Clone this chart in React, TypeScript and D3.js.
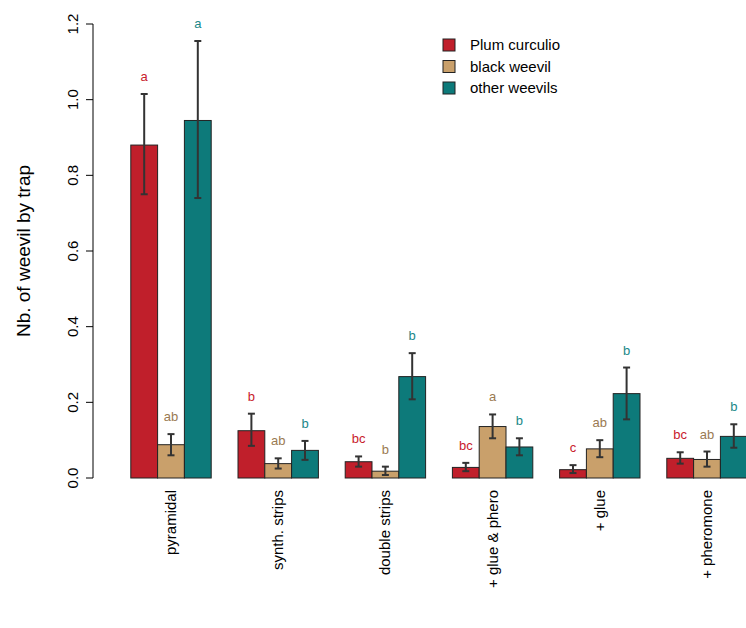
import React from 'react';
import * as d3 from 'd3';

const categories = ['pyramidal', 'synth. strips', 'double strips', '+ glue & phero', '+ glue', '+ pheromone'];
const seriesNames = ['Plum curculio', 'black weevil', 'other weevils'];
const means = [
  [0.88, 0.125, 0.043, 0.028, 0.022, 0.052],
  [0.088, 0.038, 0.018, 0.136, 0.077, 0.049],
  [0.945, 0.073, 0.268, 0.082, 0.223, 0.11],
];
const lows = [
  [0.75, 0.085, 0.03, 0.018, 0.013, 0.038],
  [0.06, 0.025, 0.008, 0.105, 0.055, 0.03],
  [0.74, 0.048, 0.208, 0.06, 0.155, 0.08],
];
const highs = [
  [1.015, 0.17, 0.057, 0.04, 0.034, 0.068],
  [0.116, 0.052, 0.03, 0.168, 0.1, 0.07],
  [1.155, 0.098, 0.33, 0.105, 0.292, 0.142],
];
const letters = [
  ['a', 'b', 'bc', 'bc', 'c', 'bc'],
  ['ab', 'ab', 'b', 'a', 'ab', 'ab'],
  ['a', 'b', 'b', 'b', 'b', 'b'],
];
const yTicks = [0, 0.2, 0.4, 0.6, 0.8, 1.0, 1.2];

const fills = ['#C01F2B', '#C9A06B', '#0D7A7A'];
const textColors = ['#C8202C', '#9A7A52', '#1A8888'];

export default function App() {
  const W = 746, H = 628;
  const unit = 26.8;
  const x0 = 104; // left edge of unit 0
  const y = d3.scaleLinear().domain([0, 1.2]).range([478, 24]);
  const font = 'Liberation Sans, Arial, sans-serif';
  const barX = (g: number, s: number) => x0 + unit * (g * 4 + 1 + s);
  return (
    <svg width={W} height={H} style={{ position: 'absolute', left: 0, top: 0, background: '#fff' }} fontFamily={font}>
      {categories.map((c, g) =>
        seriesNames.map((_, s) => {
          const bx = barX(g, s);
          const cx = bx + unit / 2;
          return (
            <g key={`${g}-${s}`}>
              <rect x={bx} y={y(means[s][g])} width={unit} height={y(0) - y(means[s][g])} fill={fills[s]} stroke="#222" strokeWidth={1} />
              <line x1={cx} x2={cx} y1={y(lows[s][g])} y2={y(highs[s][g])} stroke="#333" strokeWidth={2} />
              <line x1={cx - 3.5} x2={cx + 3.5} y1={y(lows[s][g])} y2={y(lows[s][g])} stroke="#333" strokeWidth={2} />
              <line x1={cx - 3.5} x2={cx + 3.5} y1={y(highs[s][g])} y2={y(highs[s][g])} stroke="#333" strokeWidth={2} />
              <text x={cx} y={y(highs[s][g]) - 13} textAnchor="middle" fontSize={13} fill={textColors[s]}>{letters[s][g]}</text>
            </g>
          );
        })
      )}
      {/* y axis */}
      <line x1={93} x2={93} y1={y(0)} y2={y(1.2)} stroke="#000" />
      {yTicks.map(t => (
        <g key={t}>
          <line x1={86} x2={93} y1={y(t)} y2={y(t)} stroke="#000" />
          <text transform={`translate(78,${y(t)}) rotate(-90)`} textAnchor="middle" fontSize={15}>{t.toFixed(1)}</text>
        </g>
      ))}
      <text transform={`translate(30,${y(0.6)}) rotate(-90)`} textAnchor="middle" fontSize={19}>Nb. of weevil by trap</text>
      {/* category labels */}
      {categories.map((c, g) => {
        const cx = barX(g, 1) + unit / 2;
        return (
          <text key={c} transform={`translate(${cx + 5},490) rotate(-90)`} textAnchor="end" fontSize={15}>{c}</text>
        );
      })}
      {/* legend */}
      {seriesNames.map((n, i) => (
        <g key={n} transform={`translate(443,${39 + i * 21.5})`}>
          <rect x={0} y={0} width={12} height={12} fill={fills[i]} stroke="#222" />
          <text x={27} y={11} fontSize={15}>{n}</text>
        </g>
      ))}
    </svg>
  );
}
